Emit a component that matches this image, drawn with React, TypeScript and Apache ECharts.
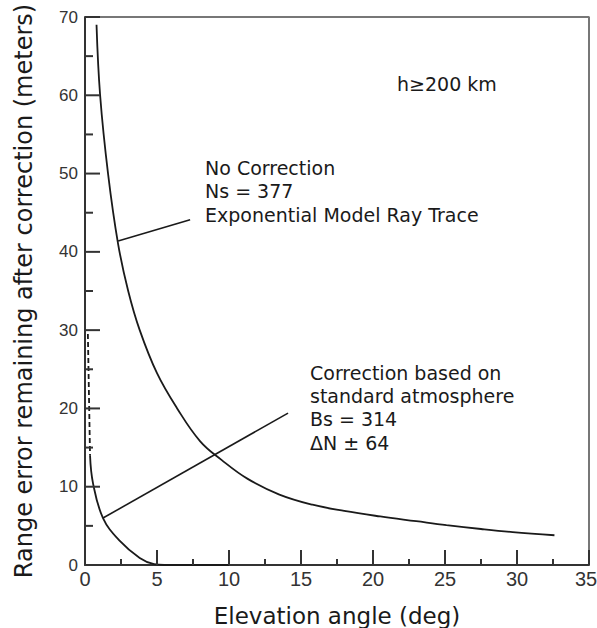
import React, { useEffect, useRef } from "react";
import * as echarts from "echarts";

// Uncorrected range error (exponential model ray trace, Ns = 377)
const noCorrX = [0.8, 1.05, 1.6, 2.3, 3.0, 3.8, 5.0, 6.4, 8.0, 9.5, 11.3, 13.5, 15.8, 18.0, 20.5, 23.0, 25.1, 27.5, 29.7, 32.6];
const noCorrY = [69, 60, 50, 41, 35, 30, 24.5, 20, 15.8, 13.4, 11, 9, 7.7, 6.9, 6.2, 5.6, 5.1, 4.6, 4.2, 3.8];

// Residual error after standard-atmosphere correction
const corrDashX = [0.2, 0.35];
const corrDashY = [29.5, 14];
const corrX = [0.35, 0.56, 1.25, 2.4, 3.8, 4.8, 5.5, 10];
const corrY = [14, 10.4, 6.0, 3.1, 0.9, 0.1, 0, 0];

// Leader lines from the curves to their notes
const leaderTopX = [2.3, 7.3];
const leaderTopY = [41.4, 44.1];
const leaderLowX = [1.25, 14.1];
const leaderLowY = [6.0, 19.4];

// Tick positions (major ticks are labelled)
const xMajorTicks = [0, 5, 10, 15, 20, 25, 30, 35];
const xMinorTicks = [2.5, 7.5, 12.5, 17.5, 22.5, 27.5, 32.5];
const yMajorTicks = [0, 10, 20, 30, 40, 50, 60, 70];
const yMinorTicks = [5, 15, 25, 35, 45, 55, 65];

const X_MAX = 35;
const Y_MAX = 70;

const zip = (xs: number[], ys: number[]) => xs.map((x, i) => [x, ys[i]]);

const W = 597;
const H = 628;
const GRID = { left: 85, right: 8, top: 17, bottom: 63 };
const FONT = "DejaVu Sans";
const INK = "#1a1a1a";
const AXIS = "#333";

// inward tick marks: thin rectangles anchored on the axis through the axis scales
function tickMarks(values: number[], onX: boolean, lenPx: number) {
  return {
    type: "scatter",
    data: values.map((v) => (onX ? [v, 0] : [0, v])),
    symbol: "rect",
    symbolSize: onX ? [2, lenPx] : [lenPx, 2],
    symbolOffset: onX ? [0, -lenPx / 2] : [lenPx / 2, 0],
    clip: false,
    silent: true,
    z: 3,
    itemStyle: { color: AXIS, opacity: 1 },
  };
}

export default function App() {
  const ref = useRef<HTMLDivElement>(null);

  useEffect(() => {
    if (!ref.current) return;
    const chart = echarts.init(ref.current, null, { renderer: "svg" });
    const lineStyle = { color: INK, width: 1.8 };
    const textStyle = { fontFamily: FONT, fontSize: 19, fill: INK };
    chart.setOption({
      animation: false,
      backgroundColor: "#fff",
      grid: { ...GRID, outerBoundsMode: "none", containLabel: false },
      xAxis: {
        type: "value",
        min: 0,
        max: X_MAX,
        interval: 5,
        name: "Elevation angle (deg)",
        nameLocation: "middle",
        nameGap: 39,
        nameMoveOverlap: false,
        nameTextStyle: { fontFamily: FONT, fontSize: 23, color: INK },
        axisLine: { show: true, onZero: false, lineStyle: { color: AXIS, width: 2 } },
        axisTick: { show: false },
        axisLabel: {
          fontFamily: "Liberation Sans Narrow, Liberation Sans",
          fontSize: 20,
          color: "#333",
          margin: 4,
          formatter: (v: number) => (v === X_MAX ? "{last|35}" : String(v)),
          rich: {
            last: {
              fontFamily: "Liberation Sans Narrow, Liberation Sans",
              fontSize: 20,
              color: "#333",
              padding: [0, 6, 0, 0],
            },
          },
        },
        splitLine: { show: false },
      },
      yAxis: {
        type: "value",
        min: 0,
        max: Y_MAX,
        interval: 10,
        name: "Range error remaining after correction (meters)",
        nameLocation: "middle",
        nameGap: 49,
        nameMoveOverlap: false,
        nameRotate: 90,
        nameTextStyle: { fontFamily: FONT, fontSize: 24, color: INK },
        axisLine: { show: true, onZero: false, lineStyle: { color: AXIS, width: 2 } },
        axisTick: { show: false },
        axisLabel: { fontFamily: "Liberation Sans", fontSize: 17, color: "#333", margin: 7 },
        splitLine: { show: false },
      },
      series: [
        // top and right edges of the plot frame
        {
          type: "line",
          data: [[0, Y_MAX], [X_MAX, Y_MAX], [X_MAX, 0]],
          showSymbol: false,
          clip: false,
          z: 1,
          lineStyle: { color: "#777", width: 2 },
        },
        tickMarks(xMajorTicks, true, 15),
        tickMarks(xMinorTicks, true, 6),
        tickMarks(yMajorTicks, false, 15),
        tickMarks(yMinorTicks, false, 8),
        { type: "line", data: zip(noCorrX, noCorrY), smooth: 0.4, showSymbol: false, lineStyle },
        { type: "line", data: zip(corrDashX, corrDashY), showSymbol: false, lineStyle: { ...lineStyle, type: [5, 3] } },
        { type: "line", data: zip(corrX, corrY), smooth: 0.4, showSymbol: false, lineStyle },
        { type: "line", data: zip(leaderTopX, leaderTopY), showSymbol: false, lineStyle: { color: INK, width: 1.6 } },
        { type: "line", data: zip(leaderLowX, leaderLowY), showSymbol: false, lineStyle: { color: INK, width: 1.6 } },
      ],
      graphic: [
        { type: "text", left: 397, top: 74, style: { ...textStyle, text: "h≥200 km" } },
        {
          type: "text",
          left: 205,
          top: 156,
          style: { ...textStyle, text: "No Correction\nNs = 377\nExponential Model Ray Trace", lineHeight: 23.5 },
        },
        {
          type: "text",
          left: 310,
          top: 361,
          style: {
            ...textStyle,
            text: "Correction based on\nstandard atmosphere\nBs = 314\nΔN ± 64",
            lineHeight: 23.3,
          },
        },
      ],
    });
    return () => chart.dispose();
  }, []);

  return <div ref={ref} style={{ width: W, height: H, position: "absolute", left: 0, top: 0 }} />;
}
